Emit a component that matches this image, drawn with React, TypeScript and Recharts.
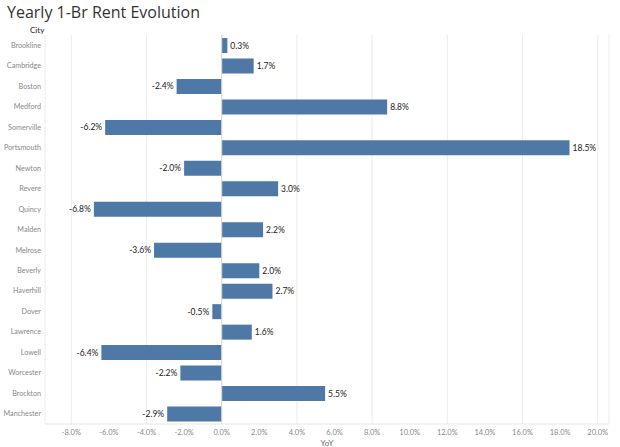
import { BarChart, Bar, XAxis, YAxis, CartesianGrid, LabelList, ReferenceLine } from 'recharts'

const cities = [
  'Brookline', 'Cambridge', 'Boston', 'Medford', 'Somerville', 'Portsmouth', 'Newton',
  'Revere', 'Quincy', 'Malden', 'Melrose', 'Beverly', 'Haverhill', 'Dover',
  'Lawrence', 'Lowell', 'Worcester', 'Brockton', 'Manchester',
]
const yoy = [0.3, 1.7, -2.4, 8.8, -6.2, 18.5, -2.0, 3.0, -6.8, 2.2, -3.6, 2.0, 2.7, -0.5, 1.6, -6.4, -2.2, 5.5, -2.9]
const xTicks = [-8, -6, -4, -2, 0, 2, 4, 6, 8, 10, 12, 14, 16, 18, 20]

const data = cities.map((city, i) => ({ city, yoy: yoy[i] }))

const FONT = 'Lato, "Open Sans", "DejaVu Sans", sans-serif'

// value labels sit just past the bar end, on whichever side the bar points
function BarLabel(props: any) {
  const { x, y, width, height, value } = props
  const end = x + width
  const neg = value < 0
  return (
    <text
      x={neg ? Math.min(x, end) - 3 : Math.max(x, end) + 3}
      y={y + height / 2}
      dy={3}
      textAnchor={neg ? 'end' : 'start'}
      fontSize={8.5}
      fill="#222"
      fontFamily={FONT}
    >
      {value.toFixed(1)}%
    </text>
  )
}

export default function App() {
  return (
    <div style={{ position: 'absolute', left: 0, top: 0, width: 620, height: 447, background: '#fff', fontFamily: FONT, overflow: 'hidden' }}>
      <div style={{ position: 'absolute', left: 7, top: 1, fontSize: 16, color: '#333', fontFamily: '"Open Sans", sans-serif' }}>Yearly 1-Br Rent Evolution</div>
      <div style={{ position: 'absolute', left: 30, top: 25, fontSize: 8, color: '#444', fontWeight: 600 }}>City</div>
      <BarChart
        width={620}
        height={447}
        data={data}
        layout="vertical"
        margin={{ top: 35, right: 11, bottom: 2, left: 0 }}
        barCategoryGap={3}
      >
        <CartesianGrid horizontal={false} stroke="#ececec" />
        <XAxis
          type="number"
          domain={[-9.4, 20.6]}
          ticks={xTicks}
          tickFormatter={(v) => `${v.toFixed(1)}%`}
          tick={{ fontSize: 7.5, fill: '#888', fontFamily: FONT, dy: -2 }}
          axisLine={{ stroke: '#e6e6e6' }}
          tickLine={false}
          height={21}
          label={{ value: 'YoY', position: 'insideBottom', offset: -1, fontSize: 8, fill: '#666' }}
        />
        <YAxis
          type="category"
          dataKey="city"
          width={45}
          tick={{ fontSize: 7.2, fill: '#888', fontFamily: FONT, dx: 4 }}
          axisLine={false}
          tickLine={false}
          interval={0}
        />
        <ReferenceLine x={0} stroke="#d8d8d8" />
        <Bar dataKey="yoy" fill="#4e79a7" barSize={15} isAnimationActive={false}>
          <LabelList dataKey="yoy" content={BarLabel} />
        </Bar>
      </BarChart>
    </div>
  )
}
